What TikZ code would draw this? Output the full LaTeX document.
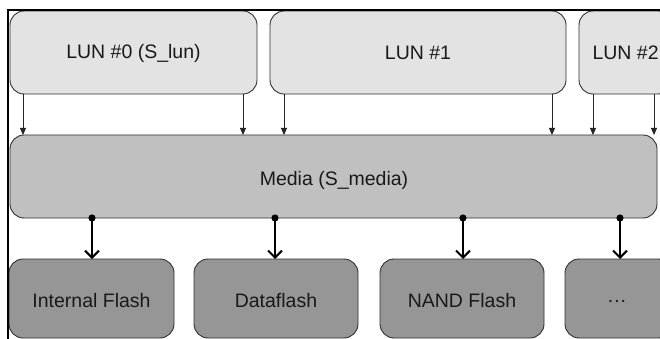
\documentclass[tikz,border=0pt]{standalone}
\usepackage{fontspec}
\setmainfont{Liberation Sans}
\usetikzlibrary{arrows.meta}
\definecolor{lunfill}{HTML}{E3E3E3}
\definecolor{mediafill}{HTML}{C0C0C0}
\definecolor{drvfill}{HTML}{969696}
\definecolor{edge}{HTML}{303030}
\tikzset{
  box/.style={draw=edge, line width=0.9pt, rounded corners=14pt},
  lunbox/.style={box, fill=lunfill},
  mediabox/.style={box, fill=mediafill},
  drvbox/.style={box, fill=drvfill},
  label/.style={font=\fontsize{19.5}{22}\selectfont, text=black!90},
  feed/.style={draw=black!85, line width=0.8pt, -{Triangle[length=7pt,width=6pt]}},
  drive/.style={draw=black, line width=2.2pt, {Circle[length=7pt]}-{Straight Barb[length=7pt,width=14pt,line width=2pt]}, shorten <=-3.5pt}
}
\begin{document}
\begin{tikzpicture}[x=1pt,y=-1pt]
\useasboundingbox (0,0) rectangle (660,339);
\fill[white] (0,0) rectangle (660,339);
\begin{scope}
\clip (0,0) rectangle (660,339);
% logical units
\draw[lunbox] (10,11) rectangle (257,94);
\draw[lunbox] (270,11) rectangle (566,94);
\draw[lunbox] (579,11) rectangle (672,94);
\node[label] (lun0) at (133.5,53) {LUN \#0 (S\_lun)};
\node[label] (lun1) at (418,53) {LUN \#1};
\node[label, anchor=west] (lun2) at (589,53) {LUN \#2};
% media layer
\draw[mediabox] (10,135) rectangle (657,218);
\node[label] (media) at (334,180) {Media (S\_media)};
% media drivers
\draw[drvbox] (9,259) rectangle (174,338);
\draw[drvbox] (194,259) rectangle (358,338);
\draw[drvbox] (380,259) rectangle (544,338);
\draw[drvbox] (565,259) rectangle (672,338);
\node[label] (flash) at (91.5,301) {Internal Flash};
\node[label] (dflash) at (276,301) {Dataflash};
\node[label] (nand) at (462,301) {NAND Flash};
\node[label] (more) at (617,301) {.\kern1pt.\kern1pt.};
% anchor points on the box edges
\foreach \x/\n in {23/a,243/b,284/c,552/d,593/e,654/f}{
  \coordinate (top\n) at (\x,94);
  \coordinate (bot\n) at (\x,135);
}
\foreach \x/\n in {92/a,275/b,463/c,620/d}{
  \coordinate (mout\n) at (\x,218);
  \coordinate (din\n) at (\x,259);
}
\foreach \n in {a,b,c,d,e,f}{ \draw[feed] (top\n) -- (bot\n); }
\foreach \n in {a,b,c,d}{ \draw[drive] (mout\n) -- (din\n); }
\end{scope}
% frame
\draw[black, line width=1.4pt] (8,339) -- (8,10) -- (660,10);
\end{tikzpicture}
\end{document}
